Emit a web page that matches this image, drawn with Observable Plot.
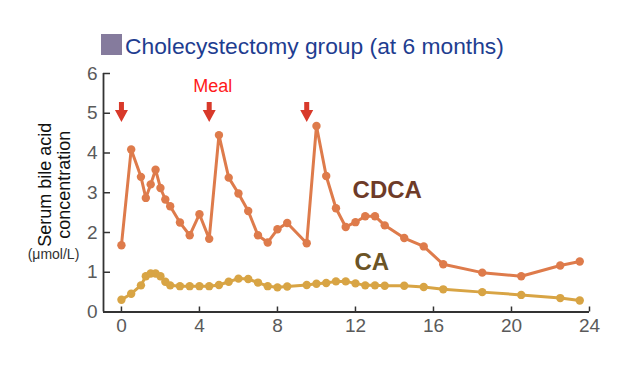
<!DOCTYPE html>
<html><head><meta charset="utf-8">
<script src="https://cdn.jsdelivr.net/npm/d3@7"></script>
<script src="https://cdn.jsdelivr.net/npm/@observablehq/plot@0.6"></script>
<style>
body{margin:0;background:#fff;font-family:"Liberation Sans",Arial,sans-serif;}
#head{position:relative;height:63px;width:625px;}
#sq{position:absolute;left:101px;top:34px;width:21px;height:21px;background:#857b9d;}
#title{position:absolute;left:125px;top:35px;font-size:22.8px;line-height:1;color:#1e3d90;white-space:nowrap;}
</style></head><body>
<div id="head"><div id="sq"></div><div id="title">Cholecystectomy group (at 6 months)</div></div>
<div id="chart"></div>
<script>
const hours = [0,0.5,1,1.25,1.5,1.75,2,2.25,2.5,3,3.5,4,4.5,5,5.5,6,6.5,7,7.5,8,8.5,9.5,10,10.5,11,11.5,12,12.5,13,13.5,14.5,15.5,16.5,18.5,20.5,22.5,23.5];
const cdca = [1.68,4.09,3.40,2.87,3.21,3.58,3.12,2.83,2.66,2.25,1.93,2.46,1.84,4.45,3.38,2.98,2.54,1.93,1.75,2.08,2.24,1.73,4.68,3.42,2.61,2.14,2.26,2.41,2.41,2.18,1.86,1.65,1.20,0.99,0.90,1.17,1.27];
const ca = [0.31,0.46,0.67,0.9,0.97,0.97,0.9,0.76,0.67,0.65,0.65,0.65,0.65,0.68,0.76,0.84,0.83,0.74,0.65,0.62,0.64,0.68,0.71,0.73,0.77,0.77,0.72,0.67,0.67,0.66,0.66,0.63,0.57,0.5,0.43,0.35,0.29];
const mealTimes = [0, 4.5, 9.5];
const xTicks = [0, 4, 8, 12, 16, 20, 24];
const yTicks = [0, 1, 2, 3, 4, 5, 6];

const xDomain = [-0.92, 24];
const yDomain = [0, 6];
const cdcaData = hours.map((h, i) => ({h, v: cdca[i]}));
const caData = hours.map((h, i) => ({h, v: ca[i]}));

const arrowSymbol = {draw(ctx) {
  ctx.moveTo(-2.5, -10); ctx.lineTo(2.5, -10); ctx.lineTo(2.5, -2); ctx.lineTo(6.5, -2);
  ctx.lineTo(0, 10); ctx.lineTo(-6.5, -2); ctx.lineTo(-2.5, -2); ctx.closePath();
}};

const cdcaColor = "#de7b4b", caColor = "#d8a444";
const font = "Liberation Sans, Arial, sans-serif";

const chart = Plot.plot({
  width: 625, height: 305,
  marginLeft: 103, marginRight: 36, marginTop: 10, marginBottom: 56.5,
  style: {fontFamily: font, background: "#fff", overflow: "visible"},
  x: {domain: xDomain},
  y: {domain: yDomain},
  marks: [
    Plot.axisX(xTicks, {tickSize: -5, tickPadding: 11.5, fontSize: 19, stroke: "#333", fill: "#5a5a5a", strokeWidth: 1.5, label: null}),
    Plot.axisY(yTicks, {tickSize: -7, tickPadding: 13, fontSize: 19, stroke: "#333", fill: "#5a5a5a", strokeWidth: 1.5, label: null}),
    Plot.ruleX([xDomain[0]], {stroke: "#333", strokeWidth: 1.8}),
    Plot.ruleY([0], {stroke: "#333", strokeWidth: 1.8}),
    Plot.text(["Serum bile acid\nconcentration"], {frameAnchor: "left", textAnchor: "middle", rotate: -90, dx: -49, dy: -8, fontSize: 18, lineHeight: 1.08, fill: "#111"}),
    Plot.text(["(\u03bcmol/L)"], {frameAnchor: "left", textAnchor: "middle", dx: -50, dy: 62, fontSize: 14, fill: "#333"}),
    Plot.line(caData, {x: "h", y: "v", stroke: caColor, strokeWidth: 3}),
    Plot.dot(caData, {x: "h", y: "v", r: 4.2, fill: caColor}),
    Plot.line(cdcaData, {x: "h", y: "v", stroke: cdcaColor, strokeWidth: 3}),
    Plot.dot(cdcaData, {x: "h", y: "v", r: 4.2, fill: cdcaColor}),
    Plot.dot(mealTimes, {x: d => d, y: () => 5.03, symbol: arrowSymbol, fill: "#d8392a", stroke: "none"}),
    Plot.text(["Meal"], {x: () => 4.68, y: () => 5.67, fontSize: 18, fill: "#ff1a1a"}),
    Plot.text(["CDCA"], {x: () => 11.85, y: () => 3.06, textAnchor: "start", fontSize: 24, fontWeight: "bold", fill: "#6e3b28"}),
    Plot.text(["CA"], {x: () => 11.95, y: () => 1.25, textAnchor: "start", fontSize: 24, fontWeight: "bold", fill: "#6b5426"})
  ]
});
document.getElementById("chart").appendChild(chart);
</script>
</body></html>
